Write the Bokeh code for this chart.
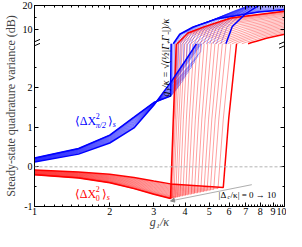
import math
from bokeh.plotting import figure
from bokeh.models import (Range1d, LinearAxis, LogAxis, FixedTicker, CustomJSTickFormatter,
                          Label, Arrow, NormalHead, Span)
from bokeh.embed import file_html
from bokeh.resources import INLINE

# ---------------- axis ranges (broken y axis) ----------------
X_RANGE = (1.0, 10.0)
LO_RANGE = (-1.0, 3.1)     # lower panel, dB
HI_RANGE = (4.0, 20.0)     # upper panel, dB
LO_SHARE = 170 / 210       # share of frame height used by the lower panel

X_TICKS = [1, 2, 3, 4, 5, 6, 7, 8, 9, 10]
X_MINOR = [1.1, 1.2, 1.3, 1.4, 1.5, 1.6, 1.7, 1.8, 1.9,
           2.2, 2.4, 2.6, 2.8, 3.2, 3.4, 3.6, 3.8, 4.2, 4.4, 4.6, 4.8,
           5.2, 5.4, 5.6, 5.8, 6.2, 6.4, 6.6, 6.8, 7.2, 7.4, 7.6, 7.8,
           8.2, 8.4, 8.6, 8.8, 9.2, 9.4, 9.6, 9.8]
LO_TICKS = [-1, 0, 1, 2]
LO_MINOR = [-0.5, 0.5, 1.5, 2.5]
HI_TICKS = [10, 20]
HI_MINOR = [15]

# detunings |Delta_c/kappa| = 0 -> 10
DELTAS = [0, 0.5, 1, 1.5, 2, 2.5, 3, 3.5, 4, 4.5, 5, 5.5, 6, 6.5, 7, 7.5, 8, 8.5, 9, 9.5, 10]

# ---------------- squeezed quadrature <dX_0^2>, lower branch ----------------
RED_LO_X = [1.0, 1.5, 2.0, 2.5, 3.0, 3.5]
RED_LO_Y = [
    [-0.200, -0.280, -0.400, -0.550, -0.690, -0.800],
    [-0.200, -0.280, -0.400, -0.549, -0.688, -0.798],
    [-0.198, -0.277, -0.396, -0.544, -0.683, -0.793],
    [-0.195, -0.273, -0.391, -0.537, -0.675, -0.783],
    [-0.190, -0.268, -0.383, -0.528, -0.664, -0.770],
    [-0.186, -0.262, -0.375, -0.516, -0.650, -0.756],
    [-0.180, -0.255, -0.364, -0.502, -0.634, -0.737],
    [-0.174, -0.247, -0.354, -0.488, -0.617, -0.719],
    [-0.166, -0.238, -0.341, -0.472, -0.598, -0.696],
    [-0.159, -0.229, -0.329, -0.455, -0.578, -0.674],
    [-0.152, -0.220, -0.316, -0.438, -0.558, -0.652],
    [-0.145, -0.211, -0.303, -0.421, -0.538, -0.630],
    [-0.138, -0.202, -0.291, -0.404, -0.518, -0.608],
    [-0.130, -0.193, -0.278, -0.388, -0.499, -0.585],
    [-0.123, -0.184, -0.266, -0.371, -0.479, -0.563],
    [-0.116, -0.175, -0.253, -0.354, -0.459, -0.541],
    [-0.109, -0.166, -0.240, -0.337, -0.439, -0.519],
    [-0.102, -0.157, -0.228, -0.320, -0.419, -0.497],
    [-0.094, -0.148, -0.215, -0.304, -0.400, -0.474],
    [-0.087, -0.139, -0.203, -0.287, -0.380, -0.452],
    [-0.080, -0.130, -0.190, -0.270, -0.360, -0.430],
]
RED_JUMP_X = [3.50, 3.51, 3.53, 3.56, 3.61, 3.67, 3.74, 3.82, 3.92, 4.02, 4.12,
              4.24, 4.36, 4.49, 4.62, 4.76, 4.90, 5.05, 5.21, 5.42, 5.69]
RED_JUMP_Y = [-0.800, -0.798, -0.795, -0.790, -0.782, -0.773, -0.762, -0.750, -0.735, -0.720, -0.706,
              -0.690, -0.673, -0.656, -0.640, -0.623, -0.606, -0.589, -0.571, -0.548, -0.520]
RED_RISE_X1 = [3.59, 3.60, 3.62, 3.66, 3.71, 3.78, 3.85, 3.94, 4.05, 4.16, 4.27,
               4.40, 4.53, 4.67, 4.81, 4.97, 5.12, 5.28, 5.46, 5.69, 5.98]
RED_RISE_X2 = [3.69, 3.70, 3.73, 3.76, 3.83, 3.90, 3.99, 4.09, 4.21, 4.34, 4.47,
               4.62, 4.77, 4.93, 5.10, 5.27, 5.45, 5.64, 5.84, 6.10, 6.43]
RED_RISE_Y = [1.2, 3.1]

# ---------------- squeezed quadrature, upper branch (upper panel) ----------------
RED_HI_X = [
    [3.72, 4.11, 4.76, 6.10, 10], [3.73, 4.12, 4.77, 6.11, 10], [3.77, 4.16, 4.81, 6.14, 10],
    [3.81, 4.20, 4.85, 6.17, 10], [3.89, 4.27, 4.92, 6.24, 10], [3.98, 4.36, 5.01, 6.31, 10],
    [4.09, 4.47, 5.11, 6.40, 10], [4.22, 4.60, 5.24, 6.50, 10], [4.37, 4.75, 5.38, 6.61, 10],
    [4.53, 4.90, 5.52, 6.73, 10], [4.69, 5.06, 5.67, 6.85, 10], [4.88, 5.24, 5.84, 6.99, 10],
    [5.07, 5.43, 6.01, 7.12, 10], [5.27, 5.62, 6.19, 7.26, 10], [5.48, 5.82, 6.37, 7.40, 10],
    [5.70, 6.03, 6.56, 7.55, 10], [5.92, 6.24, 6.75, 7.69, 10], [6.17, 6.48, 6.96, 7.86, 10],
    [6.42, 6.71, 7.17, 8.01, 10], [6.75, 7.02, 7.45, 8.22, 10], [7.15, 7.39, 7.78, 8.46, 10],
]
RED_HI_Y = [
    [4, 8.49, 11.07, 14.74, 17.60], [4, 8.46, 11.03, 14.69, 17.55], [4, 8.37, 10.92, 14.54, 17.41],
    [4, 8.23, 10.72, 14.29, 17.17], [4, 8.03, 10.44, 13.92, 16.83], [4, 7.81, 10.15, 13.52, 16.45],
    [4, 7.54, 9.78, 13.03, 15.97], [4, 7.29, 9.42, 12.55, 15.49], [4, 6.99, 9.00, 11.98, 14.91],
    [4, 6.71, 8.60, 11.43, 14.34], [4, 6.44, 8.22, 10.89, 13.76], [4, 6.18, 7.85, 10.36, 13.18],
    [4, 5.95, 7.50, 9.86, 12.61], [4, 5.72, 7.15, 9.36, 12.03], [4, 5.51, 6.83, 8.89, 11.46],
    [4, 5.31, 6.52, 8.42, 10.88], [4, 5.12, 6.22, 7.97, 10.30], [4, 4.95, 5.95, 7.54, 9.73],
    [4, 4.79, 5.68, 7.12, 9.15], [4, 4.65, 5.43, 6.72, 8.58], [4, 4.52, 5.20, 6.32, 8.00],
]

# ---------------- anti-squeezed quadrature <dX_pi/2^2>, lower panel ----------------
BLUE_LO_X = [1.0, 1.5, 2.0, 2.5, 3.0, 3.5]
BLUE_LO_Y = [
    [0.220, 0.460, 0.800, 1.250, 1.620, 1.780],
    [0.220, 0.460, 0.800, 1.249, 1.620, 1.782],
    [0.218, 0.457, 0.796, 1.245, 1.619, 1.787],
    [0.215, 0.454, 0.791, 1.238, 1.617, 1.795],
    [0.212, 0.449, 0.784, 1.228, 1.614, 1.807],
    [0.208, 0.443, 0.776, 1.218, 1.612, 1.821],
    [0.203, 0.436, 0.766, 1.204, 1.608, 1.838],
    [0.198, 0.429, 0.756, 1.191, 1.605, 1.855],
    [0.192, 0.421, 0.744, 1.174, 1.600, 1.875],
    [0.186, 0.412, 0.732, 1.158, 1.596, 1.896],
    [0.180, 0.404, 0.720, 1.142, 1.592, 1.916],
    [0.174, 0.396, 0.708, 1.126, 1.588, 1.936],
    [0.168, 0.387, 0.696, 1.110, 1.584, 1.957],
    [0.162, 0.379, 0.684, 1.093, 1.579, 1.977],
    [0.156, 0.370, 0.672, 1.077, 1.575, 1.998],
    [0.150, 0.362, 0.660, 1.061, 1.571, 2.018],
    [0.144, 0.354, 0.648, 1.045, 1.567, 2.038],
    [0.138, 0.345, 0.636, 1.029, 1.563, 2.059],
    [0.132, 0.337, 0.624, 1.012, 1.558, 2.079],
    [0.126, 0.328, 0.612, 0.996, 1.554, 2.100],
    [0.120, 0.320, 0.600, 0.980, 1.550, 2.120],
]
BLUE_TAIL_X = [[3.52], [3.53], [3.53, 3.55], [3.56, 3.58], [3.61, 3.63], [3.67, 3.70],
               [3.74, 3.77], [3.82, 3.86], [3.92, 3.96], [4.02, 4.07], [4.12, 4.18],
               [4.24, 4.30], [4.36, 4.42], [4.49, 4.54], [4.62, 4.66], [4.65], [4.60],
               [4.55], [4.50], [4.47], [4.00, 4.44]]
BLUE_TAIL_Y = [[3.1], [3.1], [1.79, 3.1], [1.82, 3.1], [1.86, 3.1], [1.91, 3.1],
               [1.98, 3.1], [2.06, 3.1], [2.16, 3.1], [2.27, 3.1], [2.38, 3.1],
               [2.50, 3.1], [2.63, 3.1], [2.77, 3.1], [2.90, 3.1], [3.1], [3.1],
               [3.1], [3.1], [3.1], [2.66, 3.1]]

# ---------------- anti-squeezed quadrature, upper panel ----------------
BLUE_HI_X = [
    [3.59, 3.81, 4.31, 5.39, 7.90, 10.05], [3.60, 3.82, 4.32, 5.40, 7.92, 10.08],
    [3.62, 3.84, 4.34, 5.43, 7.96, 10.14], [3.65, 3.87, 4.38, 5.48, 8.03, 10.22],
    [3.70, 3.92, 4.44, 5.55, 8.14, 10.36], [3.76, 3.99, 4.51, 5.64, 8.27, 10.53],
    [3.83, 4.06, 4.60, 5.75, 8.43, 10.72], [3.92, 4.16, 4.70, 5.88, 8.62, 10.98],
    [4.02, 4.26, 4.82, 6.03, 8.84, 11.26], [4.12, 4.37, 4.94, 6.18, 9.06, 11.54],
    [4.22, 4.47, 5.06, 6.33, 9.28, 11.82], [4.35, 4.61, 5.22, 6.53, 9.57, 12.18],
    [4.47, 4.74, 5.36, 6.71, 9.83, 12.52], [4.60, 4.88, 5.52, 6.90, 10.12, 12.88],
    [4.74, 5.02, 5.69, 7.11, 10.43], [4.88, 5.17, 5.86, 7.32, 10.74],
    [5.02, 5.32, 6.02, 7.53, 11.04], [5.18, 5.49, 6.22, 7.77, 11.40],
    [5.34, 5.66, 6.41, 8.01, 11.75], [5.56, 5.89, 6.67, 8.34, 12.23],
    [5.83, 6.18, 7.00, 8.75, 12.83],
]
BLUE_HI_Y = [
    [4, 8.00, 11.00, 14.50, 17.30, 18.20], [4, 8.02, 11.03, 14.54, 17.35, 18.26],
    [4, 8.06, 11.11, 14.67, 17.51, 18.43], [4, 8.14, 11.25, 14.88, 17.78, 18.71],
    [4, 8.26, 11.45, 15.17, 18.15, 19.11], [4, 8.38, 11.67, 15.51, 18.58, 19.56],
    [4, 8.54, 11.95, 15.93, 19.11, 20.13], [4, 8.70, 12.23, 16.35, 19.64, 20.70],
    [4, 8.90, 12.57, 16.85, 20.28, 21.38], [4, 9.09, 12.90, 17.36, 20.92, 22.06],
    [4, 9.28, 13.24, 17.86, 21.56, 22.74], [4, 9.47, 13.58, 18.36, 22.19, 23.43],
    [4, 9.66, 13.91, 18.87, 22.83, 24.11], [4, 9.86, 14.25, 19.37, 23.47, 24.79],
    [4, 10.05, 14.58, 19.88, 24.11], [4, 10.24, 14.92, 20.38, 24.75],
    [4, 10.43, 15.26, 20.88, 25.39], [4, 10.62, 15.59, 21.39, 26.02],
    [4, 10.82, 15.93, 21.89, 26.66], [4, 11.01, 16.26, 22.40, 27.30],
    [4, 11.20, 16.60, 22.90, 27.90],
]

RED = "#ff0000"
BLUE = "#0000ff"
FONT = "Liberation Serif"

# ---------------- build paths ----------------
red_lo_xs, red_lo_ys = [], []
for i in range(len(DELTAS)):
    xs = list(RED_LO_X)
    ys = list(RED_LO_Y[i])
    if RED_JUMP_X[i] > RED_LO_X[-1]:
        xs.append(RED_JUMP_X[i]); ys.append(RED_JUMP_Y[i])
    xs += [RED_RISE_X1[i], RED_RISE_X2[i]]
    ys += RED_RISE_Y
    red_lo_xs.append(xs); red_lo_ys.append(ys)

blue_lo_xs, blue_lo_ys = [], []
for i in range(len(DELTAS)):
    blue_lo_xs.append(list(BLUE_LO_X) + BLUE_TAIL_X[i])
    blue_lo_ys.append(list(BLUE_LO_Y[i]) + BLUE_TAIL_Y[i])

# ---------------- broken-axis geometry ----------------
lo_per_hi = (LO_RANGE[1] - LO_RANGE[0]) * (1 - LO_SHARE) / LO_SHARE / (HI_RANGE[1] - HI_RANGE[0])
y_top = LO_RANGE[1] + (HI_RANGE[1] - HI_RANGE[0]) * lo_per_hi
hi_start = HI_RANGE[1] - (y_top - LO_RANGE[0]) / lo_per_hi


def hi_to_lo(v):
    return LO_RANGE[1] + (v - HI_RANGE[0]) * lo_per_hi


p = figure(width=286, height=231, x_axis_type="log",
           x_range=Range1d(*X_RANGE), y_range=Range1d(LO_RANGE[0], y_top),
           output_backend="svg", toolbar_location=None,
           min_border_left=0, min_border_right=2, min_border_top=5, min_border_bottom=0)
p.extra_y_ranges = {"hi": Range1d(hi_start, HI_RANGE[1])}
p.xgrid.visible = False
p.ygrid.visible = False
p.outline_line_color = "black"
p.outline_line_width = 1
p.background_fill_color = "white"
p.border_fill_color = "white"

x_ticker = FixedTicker(ticks=X_TICKS, minor_ticks=X_MINOR)
y_ticker = FixedTicker(ticks=LO_TICKS + [hi_to_lo(v) for v in HI_TICKS],
                       minor_ticks=LO_MINOR + [hi_to_lo(v) for v in HI_MINOR])
y_fmt = CustomJSTickFormatter(args=dict(brk=LO_RANGE[1], h0=HI_RANGE[0], s=lo_per_hi), code="""
    if (tick > brk + 1e-6) { return (h0 + (tick - brk) / s).toFixed(0); }
    return tick.toFixed(0);
""")
blank_fmt = CustomJSTickFormatter(code="return '';")


def style(ax, labels=True):
    ax.major_tick_in = 4
    ax.major_tick_out = 0
    ax.minor_tick_in = 2
    ax.minor_tick_out = 0
    ax.axis_line_color = "black"
    ax.major_tick_line_color = "black"
    ax.minor_tick_line_color = "black"
    ax.major_label_text_font = FONT
    ax.major_label_text_color = "black"
    if labels:
        ax.major_label_text_font_size = "10px"
        ax.major_label_standoff = 1
        ax.major_label_text_line_height = 0.9
    else:
        ax.formatter = blank_fmt
        ax.major_label_text_font_size = "0px"
        ax.major_label_standoff = 0


xb = p.xaxis[0]
xb.ticker = x_ticker
style(xb)
xb.axis_label = "g₁/κ"
xb.axis_label_text_font = FONT
xb.axis_label_text_font_style = "italic"
xb.axis_label_text_font_size = "12px"
xb.axis_label_text_line_height = 0.8
xb.axis_label_standoff = -3

yl = p.yaxis[0]
yl.ticker = y_ticker
yl.formatter = y_fmt
style(yl)
yl.major_label_standoff = 2
yl.axis_label = "Steady-state quadrature variance (dB)"
yl.axis_label_text_font = FONT
yl.axis_label_text_font_style = "normal"
yl.axis_label_text_font_size = "12px"
yl.axis_label_standoff = 2

xt = LogAxis(ticker=x_ticker)
style(xt, labels=False)
p.add_layout(xt, "above")
yr = LinearAxis(ticker=y_ticker)
style(yr, labels=False)
p.add_layout(yr, "right")

# zero line
p.add_layout(Span(location=0, dimension="width", line_color="#b4b4b4",
                  line_dash="3 2", line_width=1))

# ---------------- curves ----------------
thin = dict(line_width=0.5, line_alpha=0.75)
p.multi_line(blue_lo_xs[1:-1], blue_lo_ys[1:-1], line_color=BLUE, **thin)
p.multi_line(BLUE_HI_X[1:-1], BLUE_HI_Y[1:-1], line_color=BLUE, y_range_name="hi", **thin)
p.multi_line(red_lo_xs[1:-1], red_lo_ys[1:-1], line_color=RED, **thin)
p.multi_line(RED_HI_X[1:-1], RED_HI_Y[1:-1], line_color=RED, y_range_name="hi", **thin)
for k in (0, -1):
    p.line(blue_lo_xs[k], blue_lo_ys[k], line_color=BLUE, line_width=1.5)
    p.line(BLUE_HI_X[k], BLUE_HI_Y[k], line_color=BLUE, line_width=1.5, y_range_name="hi")
    p.line(red_lo_xs[k], red_lo_ys[k], line_color=RED, line_width=1.5)
    p.line(RED_HI_X[k], RED_HI_Y[k], line_color=RED, line_width=1.5, y_range_name="hi")


# ---------------- texts ----------------
def lab(x, y, text, size, color="black", dx=0, dy=0, style="normal", align="left", angle=0.0):
    p.add_layout(Label(x=x, y=y, text=text, x_offset=dx, y_offset=dy, text_font=FONT,
                       text_font_size=size, text_color=color, text_font_style=style,
                       text_align=align, text_baseline="middle", angle=angle))


# <dX^2_{pi/2}>_s
bx, by = 1.45, 1.15
lab(bx, by, "⟨ΔX", "12px", BLUE)
lab(bx, by, "2", "8px", BLUE, dx=21, dy=5)
lab(bx, by, "π/2", "8px", BLUE, dx=21, dy=-4, style="italic")
lab(bx, by, "⟩", "12px", BLUE, dx=33)
lab(bx, by, "s", "8px", BLUE, dx=38, dy=-3, style="italic")
# <dX^2_0>_s
rx, ry = 1.45, -0.69
lab(rx, ry, "⟨ΔX", "12px", RED)
lab(rx, ry, "2", "8px", RED, dx=21, dy=5)
lab(rx, ry, "0", "8px", RED, dx=21, dy=-4)
lab(rx, ry, "⟩", "12px", RED, dx=27)
lab(rx, ry, "s", "8px", RED, dx=32, dy=-3, style="italic")

# threshold annotation (rotated)
lab(3.33, 2.75, "g₁/κ = √(½|Γ₊Γ₋|)/κ", "10px", "black", style="italic",
    align="center", angle=math.pi / 2)

# detuning annotation
p.add_layout(Arrow(end=NormalHead(size=4, fill_color="#888888", line_color="#888888"),
                   x_start=7.4, y_start=-0.45, x_end=3.5, y_end=-0.86,
                   line_color="#999999", line_width=0.8))
lab(5.45, -0.72, "|Δ", "9px")
lab(5.45, -0.72, "c", "6px", dx=9, dy=-2, style="italic")
lab(5.45, -0.72, "/κ| = 0 → 10", "9px", dx=12)

# axis-break marks
for xc in (X_RANGE[0], X_RANGE[1]):
    for off in (-0.05, 0.05):
        p.add_layout(Arrow(end=None, x_start=xc * 10 ** -0.022, y_start=LO_RANGE[1] + off - 0.06,
                           x_end=xc * 10 ** 0.022, y_end=LO_RANGE[1] + off + 0.06,
                           line_color="black", line_width=1))

open("out.html", "w").write(file_html(p, INLINE))
